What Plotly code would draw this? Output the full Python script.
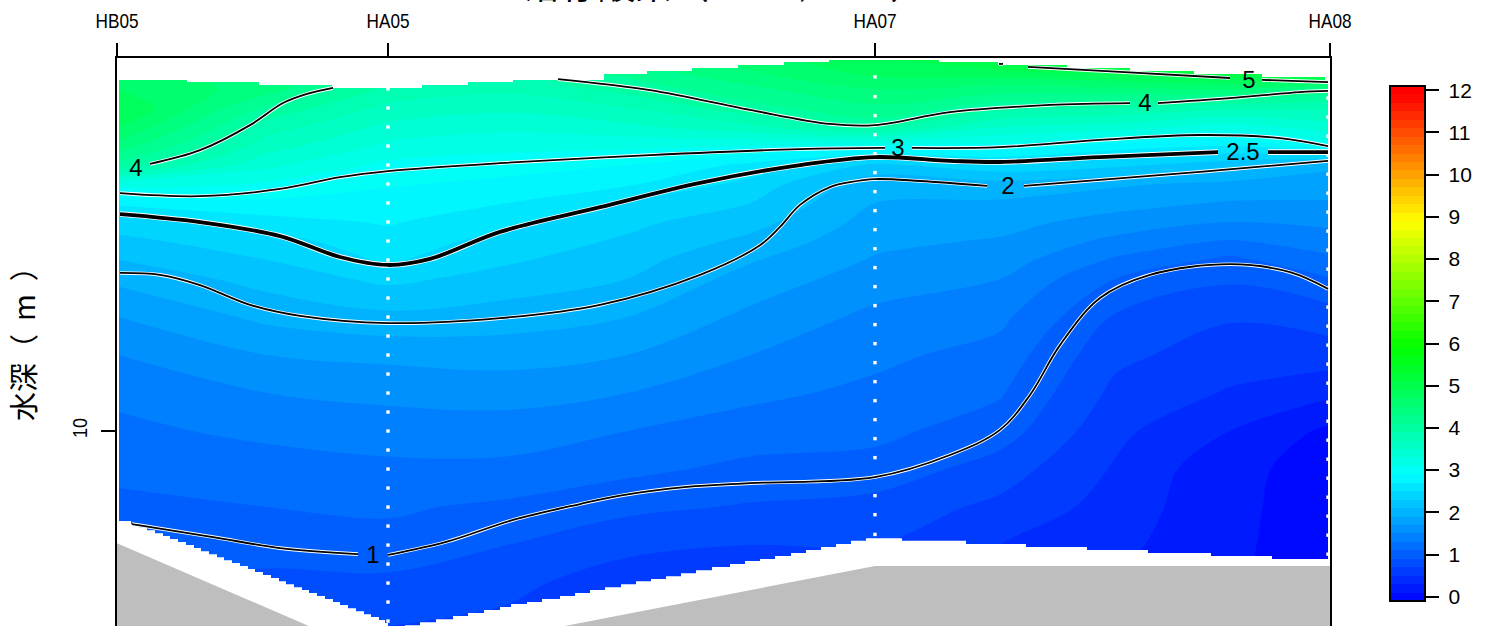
import plotly.graph_objects as go

# Along-section distance (1 unit = 100 px span of the reference axis) and depth (m)
stations = ["HB05", "HA05", "HA07", "HA08"]
station_x = [0.0, 2.71, 7.58, 12.13]

grid_x = [0.02, 1.50, 2.71, 3.90, 5.10, 6.33, 7.58, 8.83, 9.98, 11.13, 12.11]
grid_depth = [0.15, 0.5, 1, 1.5, 2, 2.5, 3, 3.5, 4, 4.5, 5, 5.5, 6, 7, 8, 9, 10, 11, 12, 13, 14, 15.13]

# Oxygen values, one list per station-column, top to bottom
col_0 = [4.6, 4.6, 4.7, 4.9, 4.7, 4.4, 4.0, 3.2, 2.75, 2.4, 2.25, 2.1, 1.95, 1.7, 1.5, 1.35, 1.25, 1.15, 1.05, 0.95, 0.9, 0.85]
col_1 = [4.4, 4.4, 4.4, 4.05, 3.8, 3.6, 3.35, 3.08, 2.85, 2.62, 2.42, 2.3, 2.18, 1.95, 1.7, 1.5, 1.35, 1.2, 1.1, 0.98, 0.85, 0.8]
col_2 = [4.0, 4.0, 3.85, 3.65, 3.45, 3.25, 3.05, 2.92, 2.82, 2.72, 2.62, 2.53, 2.35, 2.05, 1.75, 1.55, 1.4, 1.25, 1.13, 1.03, 0.85, 0.7]
col_3 = [4.0, 3.95, 3.75, 3.55, 3.35, 3.17, 2.98, 2.85, 2.7, 2.56, 2.42, 2.33, 2.22, 2.0, 1.78, 1.58, 1.4, 1.25, 1.06, 0.9, 0.75, 0.65]
col_4 = [4.3, 4.2, 3.97, 3.7, 3.45, 3.15, 2.9, 2.73, 2.47, 2.35, 2.27, 2.18, 2.1, 1.9, 1.7, 1.5, 1.3, 1.15, 0.95, 0.75, 0.6, 0.55]
col_5 = [4.6, 4.5, 4.25, 4.03, 3.65, 3.1, 2.65, 2.43, 2.3, 2.18, 2.05, 1.92, 1.82, 1.65, 1.5, 1.35, 1.2, 1.05, 0.88, 0.7, 0.6, 0.5]
col_6 = [4.9, 4.8, 4.5, 4.25, 3.97, 3.05, 2.25, 1.97, 1.9, 1.82, 1.75, 1.68, 1.6, 1.45, 1.35, 1.25, 1.15, 1.03, 0.82, 0.7, 0.6, 0.5]
col_7 = [5.2, 4.9, 4.4, 3.97, 3.5, 3.03, 2.45, 2.03, 1.87, 1.77, 1.68, 1.6, 1.5, 1.35, 1.22, 1.12, 1.0, 0.8, 0.65, 0.5, 0.45, 0.4]
col_8 = [5.4, 5.05, 4.45, 3.9, 3.4, 2.8, 2.35, 1.93, 1.78, 1.62, 1.45, 1.27, 1.1, 0.88, 0.75, 0.65, 0.55, 0.48, 0.42, 0.36, 0.3, 0.3]
col_9 = [5.8, 5.3, 4.5, 3.75, 3.2, 2.7, 2.18, 1.85, 1.68, 1.5, 1.28, 1.05, 0.93, 0.72, 0.6, 0.48, 0.3, 0.15, 0.14, 0.13, 0.12, 0.12]
col_10 = [5.9, 5.4, 4.25, 3.75, 3.4, 3.0, 1.95, 1.8, 1.68, 1.55, 1.4, 1.25, 1.08, 0.8, 0.6, 0.35, 0.06, 0.03, 0.02, 0.02, 0.02, 0.02]
columns = [col_0, col_1, col_2, col_3, col_4, col_5, col_6, col_7, col_8, col_9, col_10]

# Water surface and bottom as sampled on the interpolation grid
surface_x = [0.02, 0.70, 1.42, 2.15, 3.05, 3.51, 3.96, 4.87, 5.30, 5.75, 6.21, 6.67, 7.12, 8.22, 8.81, 9.50, 10.13, 10.77, 11.45, 12.08, 12.13]
surface_d = [0.763, 0.816, 0.895, 0.974, 0.895, 0.816, 0.763, 0.605, 0.526, 0.447, 0.368, 0.289, 0.237, 0.289, 0.368, 0.447, 0.526, 0.605, 0.684, 0.763, 0.763]
bottom_x = [0.02, 0.14, 0.22, 0.30, 0.38, 0.46, 0.53, 0.61, 0.69, 0.77, 0.84, 0.92, 1.00, 1.07, 1.15, 1.23, 1.31, 1.38, 1.46, 1.54,
            1.62, 1.69, 1.77, 1.85, 1.92, 2.00, 2.08, 2.16, 2.23, 2.31, 2.39, 2.47, 2.54, 2.62, 2.68, 2.71,
            2.88, 3.03, 3.19, 3.36, 3.51, 3.67, 3.83, 3.94, 4.10, 4.25, 4.43, 4.58, 4.73, 4.88, 5.04, 5.19, 5.34, 5.49, 5.64, 5.79,
            5.95, 6.13, 6.28, 6.43, 6.58, 6.74, 6.89, 7.04, 7.19, 7.34, 7.49, 7.85, 8.49, 9.09, 9.70, 10.31, 10.94, 11.55, 12.11]
bottom_d = [12.37, 12.45, 12.53, 12.61, 12.69, 12.76, 12.84, 12.92, 13.00, 13.08, 13.16, 13.24, 13.32, 13.40, 13.47, 13.55, 13.63, 13.71, 13.79, 13.87,
            13.95, 14.03, 14.11, 14.18, 14.26, 14.34, 14.42, 14.50, 14.58, 14.66, 14.74, 14.82, 14.89, 14.97, 15.05, 15.13,
            15.11, 15.03, 14.95, 14.87, 14.79, 14.71, 14.63, 14.55, 14.50, 14.42, 14.34, 14.26, 14.18, 14.11, 14.03, 13.95, 13.89, 13.82, 13.74, 13.66,
            13.58, 13.50, 13.42, 13.37, 13.29, 13.21, 13.13, 13.05, 12.97, 12.89, 12.82, 12.89, 12.97, 13.05, 13.13, 13.21, 13.29, 13.37, 13.37]
seabed_x = [0.0, 2.71, 7.58, 12.13]
seabed_d = [12.95, 16.03, 13.55, 13.55]

# Sampling depths at the stations
ha05_d = [1.0, 1.5, 2.0, 2.5, 3.0, 3.5, 4.0, 4.5, 5.0, 5.5, 6.0, 6.5, 7.0, 7.5, 8.0, 8.5, 9.0, 9.5, 10.0, 10.5, 11.0, 11.5, 12.0, 12.5, 13.0, 13.5, 14.0, 14.5, 15.0]
ha07_d = [0.68, 1.2, 1.7, 2.2, 2.7, 3.2, 3.7, 4.2, 4.7, 5.2, 5.7, 6.2, 6.7, 7.2, 7.7, 8.2, 8.7, 9.2, 9.7, 10.2, 10.7, 11.2, 11.7, 12.2, 12.72]
ha08_d = [1.24, 1.74, 2.24, 2.74, 3.24, 3.74, 4.24, 4.74, 5.24, 5.74, 6.24, 6.74, 7.24, 7.74, 8.24, 8.74, 9.24, 9.74, 10.24, 10.74, 11.24, 11.74, 12.24, 12.74, 13.24]

# Labelled isolines: x, depth per level with gaps at labels (None)
line_1_x = [0.15, 0.96, 1.63, 2.41, None, 2.71, 3.30, 3.96, 4.63, 5.03, 5.70, 6.33, 7.58, 8.33, 8.83, 9.13, 9.43, 9.83, 10.33, 11.13, 11.73, 12.11]
line_1_d = [12.45, 12.79, 13.08, 13.24, None, 13.26, 12.91, 12.34, 11.92, 11.70, 11.47, 11.37, 11.21, 10.63, 9.97, 9.05, 7.74, 6.5, 5.89, 5.61, 5.82, 6.26]
line_2_x = [0.03, 0.43, 0.83, 1.33, 1.83, 2.71, 3.83, 4.83, 5.83, 6.43, 6.63, 6.83, 7.13, 7.33, 7.58, 8.03, 8.70, None, 9.07, 9.83, 10.83, 12.11]
line_2_d = [5.84, 5.89, 6.16, 6.68, 6.97, 7.16, 7.03, 6.68, 5.89, 5.11, 4.63, 4.05, 3.58, 3.45, 3.37, 3.42, 3.55, None, 3.55, 3.39, 3.18, 2.89]
line_25_x = [0.03, 0.83, 1.63, 2.23, 2.71, 3.13, 3.83, 4.83, 5.83, 6.83, 7.58, 8.33, 8.83, 9.83, 11.01, None, 11.51, 12.11]
line_25_d = [4.29, 4.5, 4.87, 5.42, 5.63, 5.47, 4.76, 4.11, 3.47, 3.0, 2.79, 2.89, 2.92, 2.79, 2.66, None, 2.66, 2.66]
line_3_x = [0.03, 0.83, 1.63, 2.23, 2.71, 3.83, 5.33, 6.83, 7.68, None, 7.95, 8.83, 9.83, 10.83, 11.63, 12.11]
line_3_d = [3.74, 3.82, 3.63, 3.32, 3.16, 2.95, 2.74, 2.58, 2.55, None, 2.55, 2.53, 2.34, 2.21, 2.29, 2.5]
line_4_x = [0.33, 0.83, 1.33, 1.66, 1.90, 2.16, None, 4.41, 5.33, 6.33, 7.13, 7.58, 8.33, 9.33, 10.13, None, 10.41, 11.13, 11.83, 12.11]
line_4_d = [2.97, 2.61, 1.95, 1.37, 1.13, 0.97, None, 0.74, 1.03, 1.55, 1.92, 1.95, 1.61, 1.42, 1.37, None, 1.37, 1.24, 1.08, 1.05]
line_5_x = [8.82, 8.86, None, 9.11, 10.03, 11.13, None, 11.45, 12.11]
line_5_d = [0.34, 0.34, None, 0.42, 0.55, 0.71, None, 0.76, 0.82]
isolines = [(line_1_x, line_1_d, 1.8), (line_2_x, line_2_d, 1.8), (line_25_x, line_25_d, 3.8),
            (line_3_x, line_3_d, 1.8), (line_4_x, line_4_d, 1.8), (line_5_x, line_5_d, 1.8)]

label_text = ["4", "3", "2.5", "2", "1", "4", "5"]
label_x = [0.19, 7.81, 11.26, 8.91, 2.56, 10.28, 11.32]
label_d = [3.13, 2.60, 2.71, 3.60, 13.31, 1.42, 0.82]

cbar_ticks = list(range(0, 13))
colorscale = [[0.0, "rgb(0,0,255)"], [0.25, "rgb(0,255,255)"], [0.5, "rgb(0,255,0)"],
              [0.75, "rgb(255,255,0)"], [1.0, "rgb(255,0,0)"]]

W, H = 1492, 626
PL, PR, PT = 117, 1330, 58
SANS = "Liberation Sans"
CJK = "Noto Sans CJK JP"

z = [[columns[c][r] for c in range(len(grid_x))] for r in range(len(grid_depth))]

fig = go.Figure()
fig.add_trace(go.Contour(
    x=grid_x, y=grid_depth, z=z, zmin=-0.1, zmax=12.1, colorscale=colorscale, autocontour=False,
    contours=dict(start=-0.1, end=12.1, size=0.2, coloring="fill", showlines=False),
    line=dict(width=0, smoothing=1.0), hoverinfo="skip",
    colorbar=dict(x=1390 / W, xanchor="left", xpad=0, thickness=35, thicknessmode="pixels",
                  y=(H - 601) / H, yanchor="bottom", ypad=0, len=515, lenmode="pixels",
                  outlinecolor="black", outlinewidth=2, ticks="outside", ticklen=13, tickwidth=1.5,
                  tickcolor="black", tickmode="array", tickvals=cbar_ticks,
                  ticktext=["\u00a0" + str(t) for t in cbar_ticks],
                  tickfont=dict(family=SANS, size=21, color="black"))))

# white above the sea surface and below the water bottom, grey seabed
fig.add_trace(go.Scatter(x=[surface_x[0]] + surface_x + [surface_x[-1]], y=[-1] + surface_d + [-1], mode="lines",
                         line=dict(width=0, shape="hv"), fill="toself", fillcolor="white", hoverinfo="skip"))
fig.add_trace(go.Scatter(x=[bottom_x[0]] + bottom_x + [bottom_x[-1]], y=[20] + bottom_d + [20], mode="lines",
                         line=dict(width=0, shape="hv"), fill="toself", fillcolor="white", hoverinfo="skip"))
fig.add_trace(go.Scatter(x=[seabed_x[0]] + seabed_x + [seabed_x[-1]], y=[20] + seabed_d + [20], mode="lines",
                         line=dict(width=0), fill="toself", fillcolor="#BEBEBE", hoverinfo="skip"))

for sx, sd in zip(station_x[1:], [ha05_d, ha07_d, ha08_d]):
    fig.add_trace(go.Scatter(x=[sx if sx < 12 else 12.11] * len(sd), y=sd, mode="markers",
                             marker=dict(symbol="square", size=3.4, color="white", line=dict(width=0)), hoverinfo="skip"))

for lx, ld, w in isolines:
    fig.add_trace(go.Scatter(x=lx, y=ld, mode="lines", hoverinfo="skip",
                             line=dict(color="white", width=w + 1.8, shape="spline", smoothing=1.0)))
    fig.add_trace(go.Scatter(x=lx, y=ld, mode="lines", hoverinfo="skip",
                             line=dict(color="black", width=w, shape="spline", smoothing=1.0)))

fig.add_trace(go.Scatter(x=label_x, y=label_d, mode="text", text=label_text, hoverinfo="skip",
                         textfont=dict(family=SANS, size=24, color="black")))

fig.add_annotation(text="溶存酸素（\u00a0\u00a0ｍｌ／Ｌ\u00a0\u00a0）", xref="paper", yref="paper", x=725 / W, y=(H - 12) / H,
                   xanchor="center", yanchor="bottom", showarrow=False,
                   font=dict(family=CJK, size=37, color="black"))
fig.add_annotation(text="水深（\u00a0\u00a0m\u00a0\u00a0）", xref="paper", yref="paper", x=22 / W, y=(H - 337) / H,
                   xanchor="center", yanchor="middle", textangle=-90, showarrow=False,
                   font=dict(family=CJK, size=29, color="black"))

fig.update_layout(
    width=W, height=H, margin=dict(l=0, r=0, t=0, b=0, pad=0, autoexpand=False), paper_bgcolor="white", plot_bgcolor="white",
    showlegend=False,
    xaxis=dict(domain=[PL / W, PR / W], range=[0.0, 12.13], side="top", showgrid=False, zeroline=False,
               tickmode="array", tickvals=station_x, ticktext=stations, ticks="outside", ticklen=13,
               tickwidth=1.5, tickcolor="black", showline=True, linecolor="black", linewidth=2,
               ticklabelstandoff=7, tickfont=dict(family=SANS, size=21, color="black")),
    yaxis=dict(domain=[0, (H - PT) / H], range=[15.13, 0.184], showgrid=False, zeroline=False,
               tickmode="array", tickvals=[10], ticktext=["10"], ticks="outside", ticklen=14,
               tickwidth=1.5, tickcolor="black", showline=True, linecolor="black", linewidth=2, mirror=True,
               ticklabelstandoff=6, tickangle=-90, tickfont=dict(family=SANS, size=21, color="black")),
)

# Condense the axis tick labels (no condensed face is installed); they stay real text
squeeze = """
document.body.style.margin='0';document.body.style.overflow='hidden';
document.querySelectorAll('.xtick text').forEach(function(t){t.setAttribute('textLength','43');t.setAttribute('lengthAdjust','spacingAndGlyphs');});
document.querySelectorAll('.ytick text').forEach(function(t){t.setAttribute('textLength','20');t.setAttribute('lengthAdjust','spacingAndGlyphs');});
"""
fig.write_html("out.html", config={"displayModeBar": False}, post_script=squeeze)
